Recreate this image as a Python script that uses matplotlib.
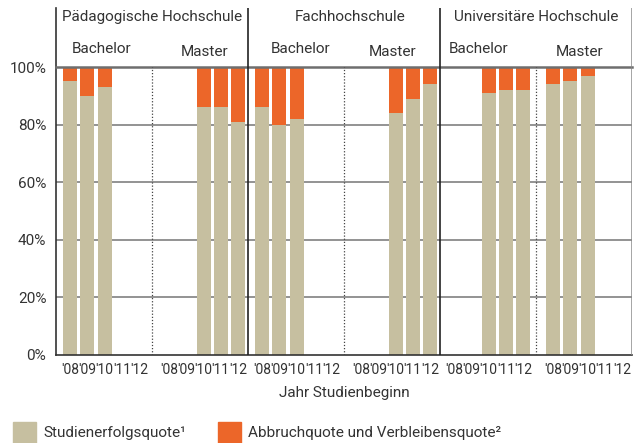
import numpy as np
import matplotlib.pyplot as plt

plt.rcParams['font.family'] = ['Roboto', 'DejaVu Sans']

# Data: Studienerfolgsquote in % (rest up to 100 = Abbruch- und Verbleibensquote)
years = ["'08", "'09", "'10", "'11", "'12"]
panels = ["Pädagogische Hochschule", "Fachhochschule", "Universitäre Hochschule"]
groups = ["Bachelor", "Master"]

# index of year per bar, success quote
ph_bachelor_years = [0, 1, 2]
ph_bachelor = [95.0, 90.0, 93.0]
ph_master_years = [2, 3, 4]
ph_master = [86.0, 86.0, 81.0]
fh_bachelor_years = [0, 1, 2]
fh_bachelor = [86.0, 80.0, 82.0]
fh_master_years = [2, 3, 4]
fh_master = [84.0, 89.0, 94.0]
uh_bachelor_years = [2, 3, 4]
uh_bachelor = [91.0, 92.0, 92.0]
uh_master_years = [0, 1, 2]
uh_master = [94.0, 95.0, 97.0]

series = [
    [(ph_bachelor_years, ph_bachelor), (ph_master_years, ph_master)],
    [(fh_bachelor_years, fh_bachelor), (fh_master_years, fh_master)],
    [(uh_bachelor_years, uh_bachelor), (uh_master_years, uh_master)],
]

tan = "#c6bfa0"
orange = "#ec6629"

panel_w = 192
group_off = 99
first = 14
step = 17.25
bar_w = 14

fig = plt.figure(figsize=(6.4, 4.43), dpi=100)
ax = fig.add_axes([56 / 640, 88 / 443, 576 / 640, 347 / 443])
ax.set_xlim(0, 576)
ax.set_ylim(0, 120.5)

for p, panel in enumerate(series):
    for g, (yrs, vals) in enumerate(panel):
        x = p * panel_w + g * group_off + first + np.array(yrs) * step
        vals = np.array(vals)
        ax.bar(x, vals, width=bar_w, color=tan, zorder=2)
        ax.bar(x, 100 - vals, bottom=vals, width=bar_w, color=orange, zorder=2)

# gridlines
for v in [20, 40, 60, 80]:
    ax.axhline(v, color="#8a8a8a", lw=1.3, zorder=1)
ax.plot([0, 576], [100, 100], color="#6e6e6e", lw=1.8, zorder=3, clip_on=False)

# panel dividers and dotted separators
for p in range(3):
    if p > 0:
        ax.axvline(p * panel_w, color="#222222", lw=1.2, zorder=3)
    ax.plot([p * panel_w + 96] * 2, [0, 100], color="#444444", lw=0.9,
            ls=(0, (1, 1.5)), zorder=3)
ax.axvline(576, color="#8a8a8a", lw=1.8, zorder=3)

# ticks
tick_x = []
tick_l = []
for p in range(3):
    for g in range(2):
        for k, y in enumerate(years):
            tick_x.append(p * panel_w + g * group_off + first + k * step)
            tick_l.append(y)
ax.set_xticks(tick_x)
ax.set_xticklabels(tick_l, fontsize=10, color="#333333")
ax.set_yticks([0, 20, 40, 60, 80, 100])
ax.set_yticklabels(["0%", "20%", "40%", "60%", "80%", "100%"], fontsize=11, color="#333333")
ax.tick_params(length=0, axis="x", pad=6)
ax.tick_params(length=0, axis="y", pad=7)

for s in ["top", "right"]:
    ax.spines[s].set_visible(False)
ax.spines["left"].set_color("#333333")
ax.spines["left"].set_linewidth(1.2)
ax.spines["bottom"].set_color("#333333")
ax.spines["bottom"].set_linewidth(1.2)

# panel titles and group labels
title_x = [96, 294, 480]
for tx, t in zip(title_x, panels):
    ax.text(tx, 117.4, t, ha="center", va="center", fontsize=11, color="#333333")
bach_x = [46, 245, 423]
mast_x = [149, 337, 524]
for bx, mx in zip(bach_x, mast_x):
    ax.text(bx, 106.3, groups[0], ha="center", va="center", fontsize=11, color="#333333")
    ax.text(mx, 105.2, groups[1], ha="center", va="center", fontsize=11, color="#333333")

fig.text(344 / 640, 1 - 393 / 443, "Jahr Studienbeginn", ha="center", va="center",
         fontsize=11, color="#333333")

# legend
fig.patches.append(plt.Rectangle((13 / 640, 0), 23 / 640, 21 / 443,
                                 transform=fig.transFigure, color=tan))
fig.text(43 / 640, 1 - 433 / 443, "Studienerfolgsquote\u00b9", ha="left", va="center",
         fontsize=11, color="#333333")
fig.patches.append(plt.Rectangle((218 / 640, 0), 23 / 640, 21 / 443,
                                 transform=fig.transFigure, color=orange))
fig.text(248 / 640, 1 - 433 / 443, "Abbruchquote und Verbleibensquote\u00b2", ha="left",
         va="center", fontsize=11, color="#333333")

fig.savefig("out.png", dpi=100)
